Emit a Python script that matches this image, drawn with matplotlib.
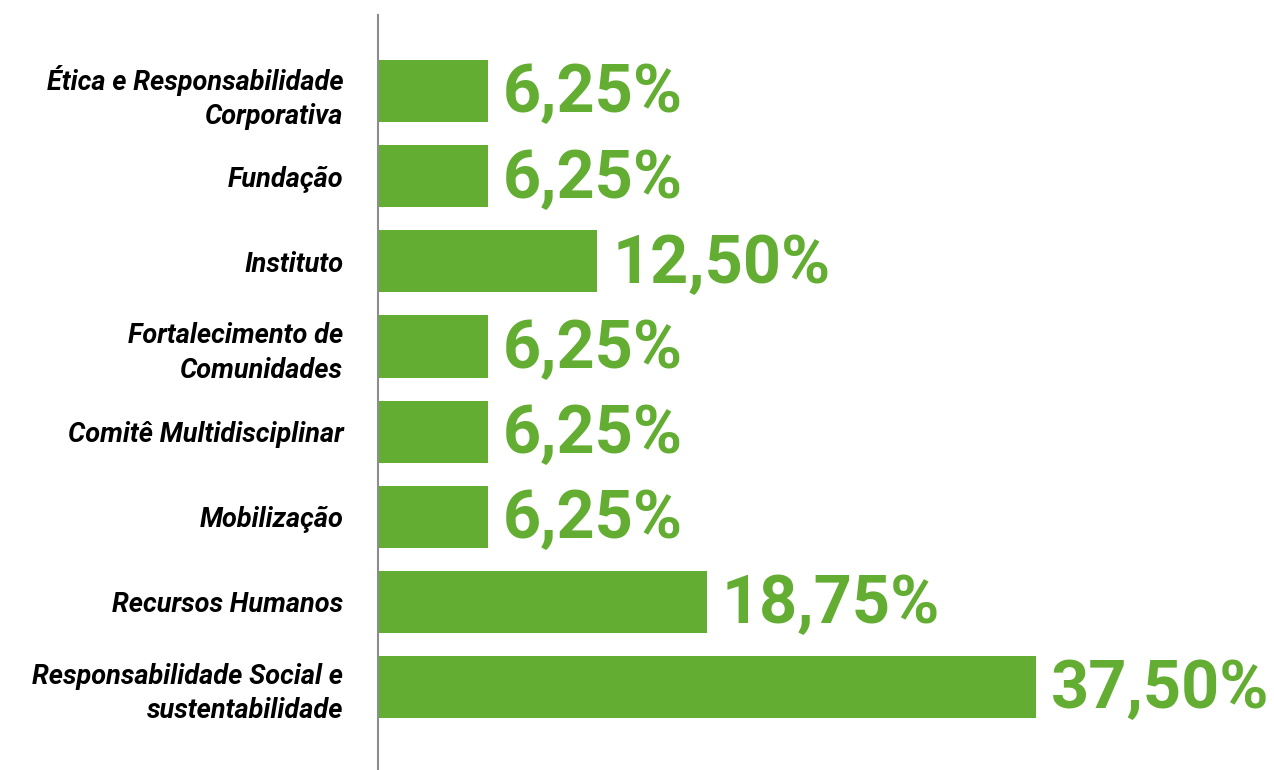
import matplotlib.pyplot as plt

categories = [
    "Ética e Responsabilidade\nCorporativa",
    "Fundação",
    "Instituto",
    "Fortalecimento de\nComunidades",
    "Comitê Multidisciplinar",
    "Mobilização",
    "Recursos Humanos",
    "Responsabilidade Social e\nsustentabilidade",
]
values = [6.25, 6.25, 12.50, 6.25, 6.25, 6.25, 18.75, 37.50]
value_labels = ["6,25%", "6,25%", "12,50%", "6,25%", "6,25%", "6,25%", "18,75%", "37,50%"]

green = "#62ad32"

fig = plt.figure(figsize=(12.74, 7.7), dpi=100)
ax = fig.add_axes([378 / 1274, 0, 1 - 378 / 1274, 1 - 15 / 770])

y = list(range(len(categories)))
ax.barh(y, values, height=0.73, color=green, zorder=2)

for yi, v, lab in zip(y, values, value_labels):
    ax.text(v + 0.85, yi + 0.04, lab, va="center", ha="left", color=green,
            fontsize=48, fontweight="bold", family="Roboto")

ax.set_yticks(y)
ax.set_yticklabels(categories, fontsize=19.5, fontweight="bold", style="italic",
                   family="Roboto", linespacing=1.35)
ax.tick_params(axis="y", length=0, pad=25)
ax.set_xticks([])
ax.set_xlim(0, 51.06)
ax.set_ylim(7.975, -0.893)

for s in ["top", "right", "bottom"]:
    ax.spines[s].set_visible(False)
ax.spines["left"].set_color("#8c8c8c")
ax.spines["left"].set_linewidth(1.5)

fig.savefig("out.png", dpi=100)
